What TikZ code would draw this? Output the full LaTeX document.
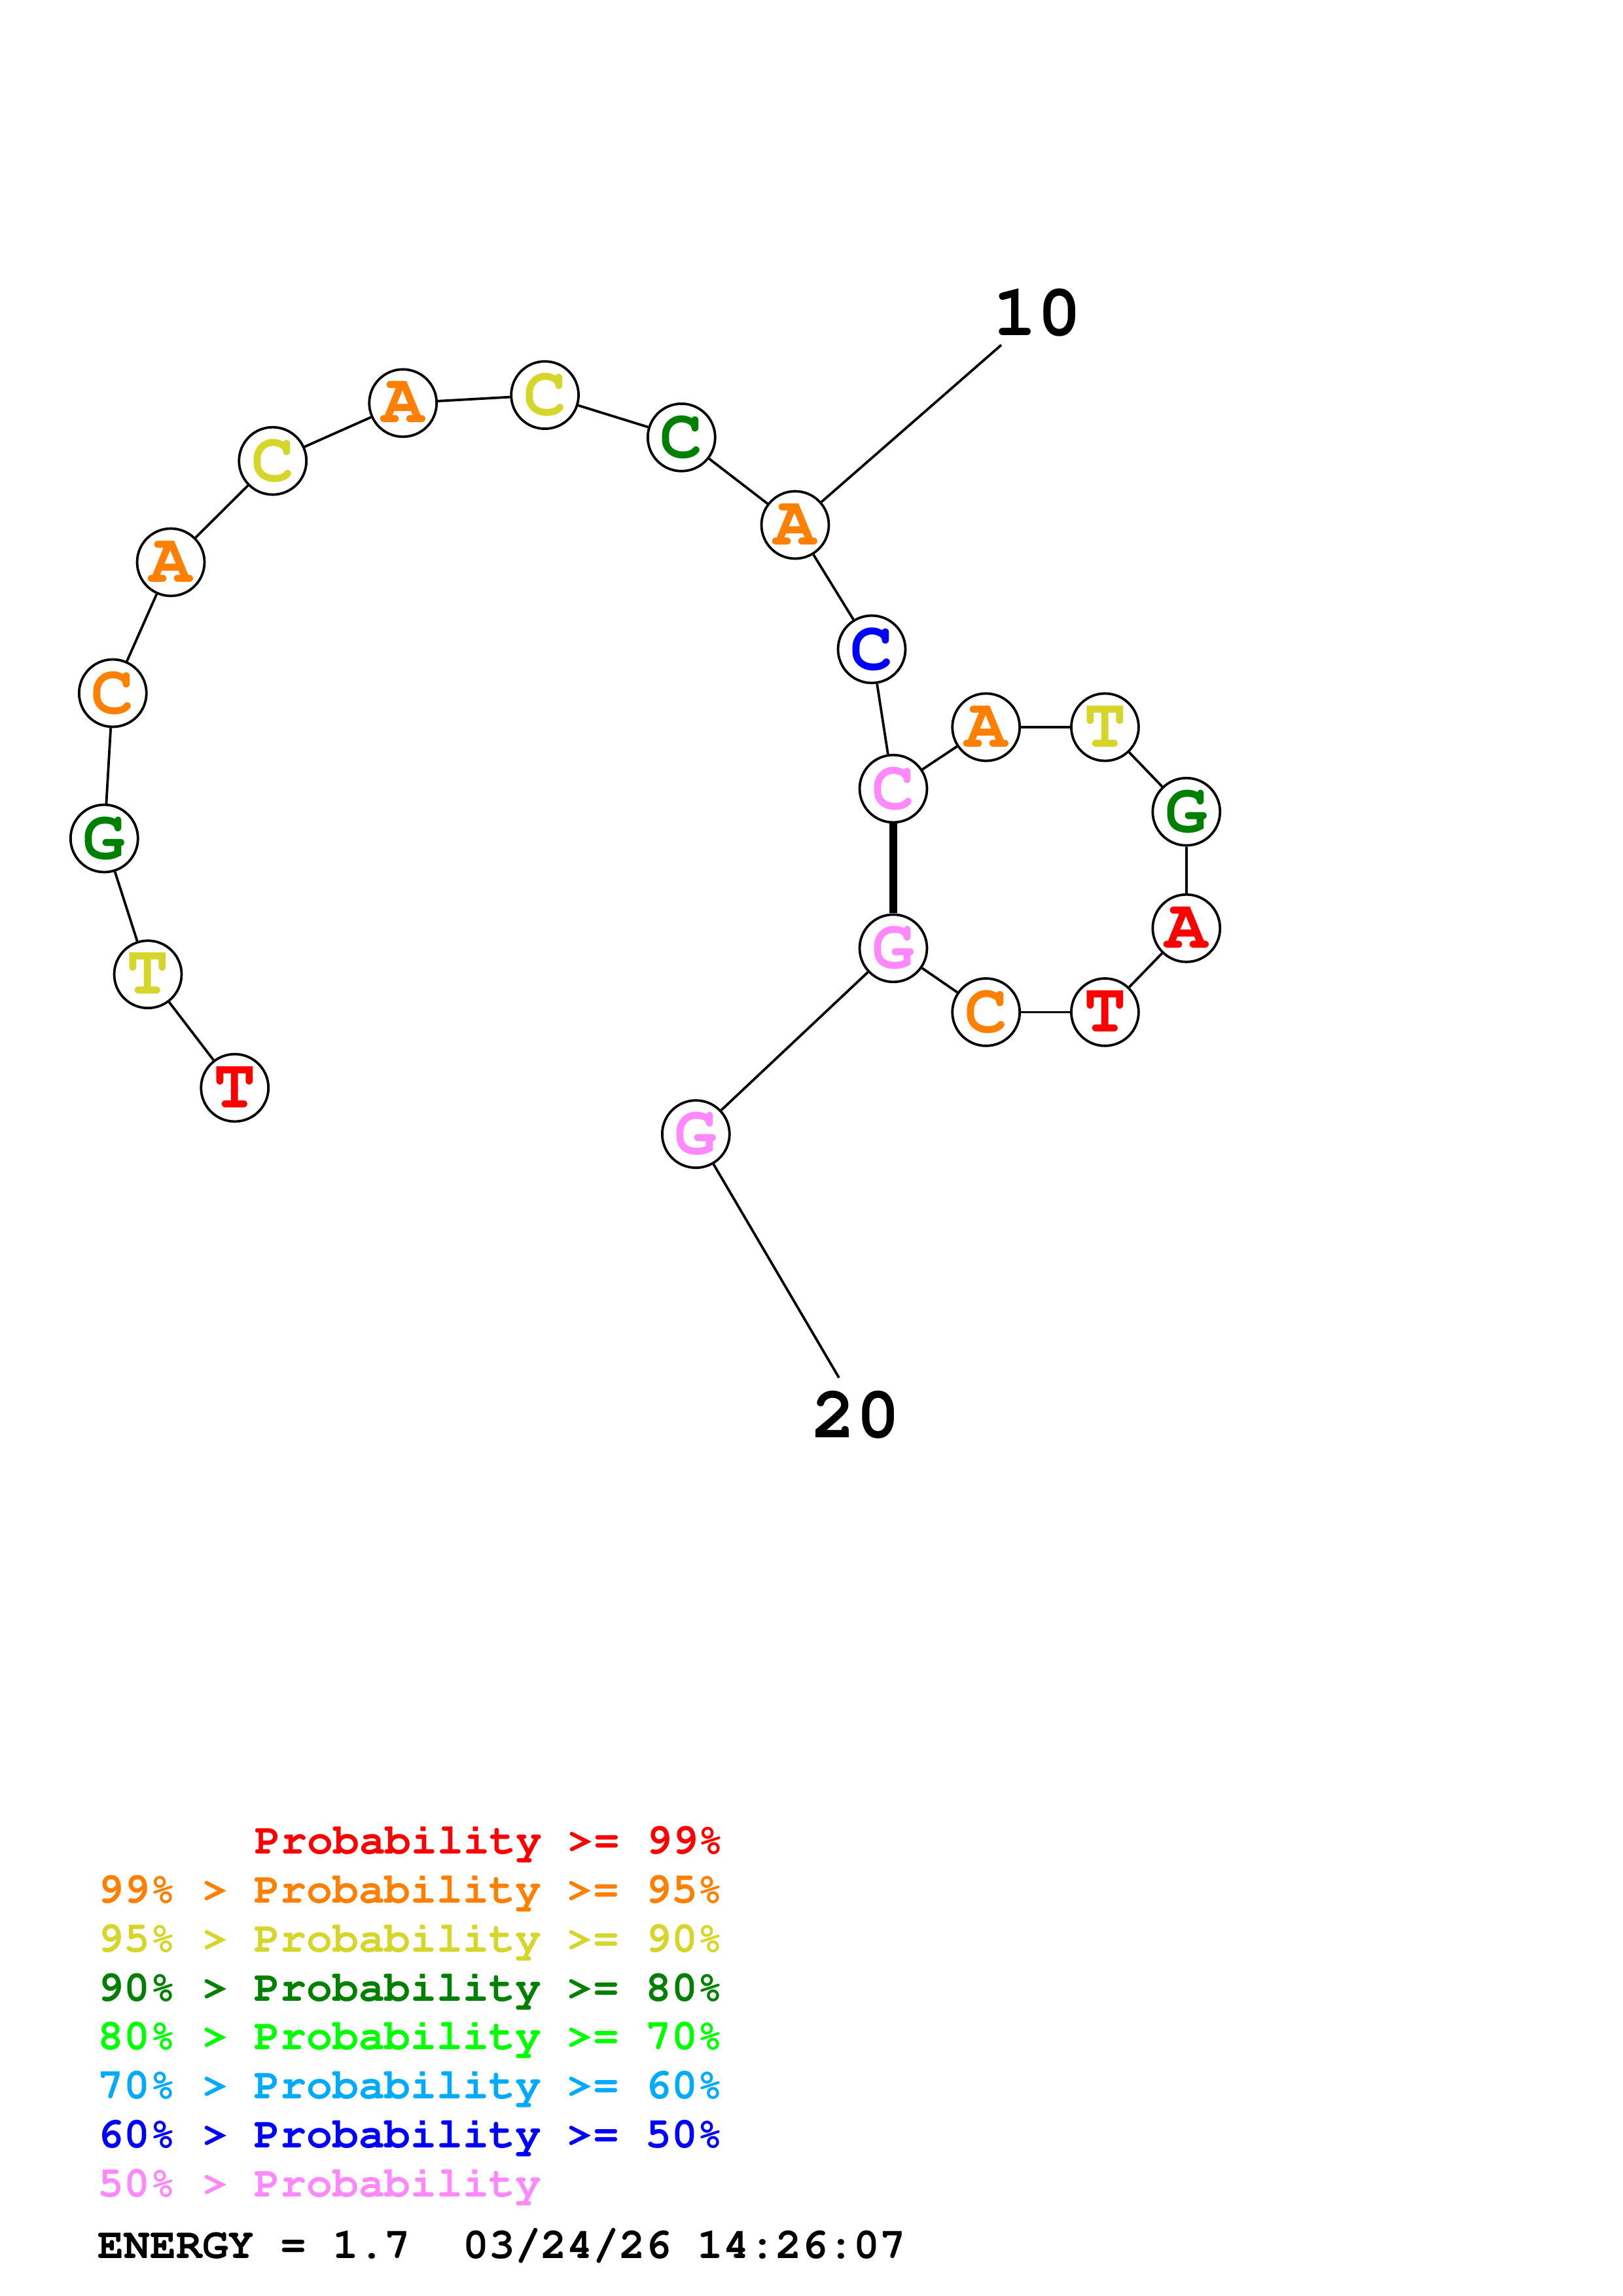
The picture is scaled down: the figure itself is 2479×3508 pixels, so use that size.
\documentclass[tikz,border=0pt]{standalone}
\usepackage[T1,TU]{fontenc}
\newcommand{\cour}{\fontencoding{T1}\fontfamily{pcr}\fontseries{b}\selectfont}
\definecolor{pred}{RGB}{255,0,0}
\definecolor{pora}{RGB}{255,128,0}
\definecolor{pyel}{RGB}{214,214,42}
\definecolor{pdgr}{RGB}{0,128,0}
\definecolor{pgrn}{RGB}{0,255,0}
\definecolor{psky}{RGB}{0,170,255}
\definecolor{pblu}{RGB}{0,0,255}
\definecolor{ppnk}{RGB}{255,136,255}

\begin{document}
\begin{tikzpicture}[x=0.08471mm,y=-0.08471mm,
  base/.style={circle,draw,line width=0.32mm,fill=white,minimum size=8.72mm,inner sep=0pt,
    font=\cour\fontsize{26}{26}\selectfont},
  bond/.style={line width=0.32mm},
  pair/.style={line width=0.97mm},
  num/.style={anchor=base,inner sep=0pt,font=\cour\fontsize{27}{27}\selectfont},
  key/.style={anchor=base west,inner sep=0pt,font=\cour\fontsize{16}{16}\selectfont}]
  \useasboundingbox (0,0) rectangle (2479,3508);
  % bases
  \node[base,text=pred] (n1)  at (358.7,1662)  {T};
  \node[base,text=pyel] (n2)  at (226,1488.7)  {T};
  \node[base,text=pdgr] (n3)  at (159.3,1281)  {G};
  \node[base,text=pora] (n4)  at (172.3,1059)  {C};
  \node[base,text=pora] (n5)  at (261,859)     {A};
  \node[base,text=pyel] (n6)  at (416.7,704.2) {C};
  \node[base,text=pora] (n7)  at (615.7,615.8) {A};
  \node[base,text=pyel] (n8)  at (832.6,603.6) {C};
  \node[base,text=pdgr] (n9)  at (1041.3,668.3) {C};
  \node[base,text=pora] (n10) at (1215,802)    {A};
  \node[base,text=pblu] (n11) at (1332,992)    {C};
  \node[base,text=ppnk] (n12) at (1365,1205)   {C};
  \node[base,text=pora] (n13) at (1506.7,1111) {A};
  \node[base,text=pyel] (n14) at (1688.4,1111) {T};
  \node[base,text=pdgr] (n15) at (1812.8,1240.2) {G};
  \node[base,text=pred] (n16) at (1812.8,1418.2) {A};
  \node[base,text=pred] (n17) at (1688.4,1546.4) {T};
  \node[base,text=pora] (n18) at (1506.7,1546.4) {C};
  \node[base,text=ppnk] (n19) at (1365,1448.8) {G};
  \node[base,text=ppnk] (n20) at (1063.3,1732.7) {G};
  % numbering
  \coordinate (e10) at (1530,527);
  \coordinate (e20) at (1282,2105);
  \node[num] (l10) at (1585,512)  {10};
  \node[num] (l20) at (1308,2196) {20};
  \path[bond]
    (n1) edge (n2)
    (n2) edge (n3)
    (n3) edge (n4)
    (n4) edge (n5)
    (n5) edge (n6)
    (n6) edge (n7)
    (n7) edge (n8)
    (n8) edge (n9)
    (n9) edge (n10)
    (n10) edge (n11)
    (n11) edge (n12)
    (n12) edge (n13)
    (n13) edge (n14)
    (n14) edge (n15)
    (n15) edge (n16)
    (n16) edge (n17)
    (n17) edge (n18)
    (n18) edge (n19)
    (n19) edge (n20)
    (n10) edge (e10)
    (n20) edge (e20);
  \draw[pair] (n12) -- (n19);
  % legend
  \node[key,text=pred] (k1) at (389,2832.6) {Probability >= 99\%};
  \node[key,text=pora] (k2) at (149,2907.4) {99\% > Probability >= 95\%};
  \node[key,text=pyel] (k3) at (149,2982.2) {95\% > Probability >= 90\%};
  \node[key,text=pdgr] (k4) at (149,3057)   {90\% > Probability >= 80\%};
  \node[key,text=pgrn] (k5) at (149,3131.8) {80\% > Probability >= 70\%};
  \node[key,text=psky] (k6) at (149,3206.6) {70\% > Probability >= 60\%};
  \node[key,text=pblu] (k7) at (149,3281.4) {60\% > Probability >= 50\%};
  \node[key,text=ppnk] (k8) at (149,3356.2) {50\% > Probability};
  \node[key] (energy) at (149,3450) {ENERGY = 1.7\ \ 03/24/26 14:26:07};
\end{tikzpicture}
\end{document}
